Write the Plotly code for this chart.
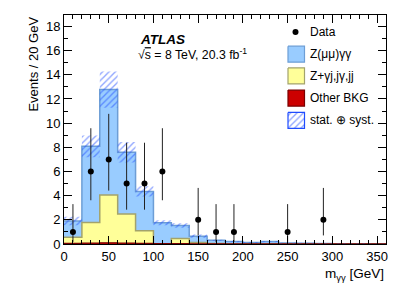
import plotly.graph_objects as go

# ---------------- data ----------------
bin_edges = [0, 20, 40, 60, 80, 100, 120, 140, 160, 180, 200, 220, 240, 260, 280, 300, 320, 340, 360]
other_bkg = [0.05, 0.08, 0.10, 0.08, 0.05, 0.03, 0.03, 0.02, 0.02, 0.01, 0.01, 0.01, 0.01, 0.01, 0.01, 0.01, 0.01, 0.01]
z_jets = [0.50, 1.70, 3.95, 2.40, 1.05, 0.00, 0.42, 0.10, 0.02, 0, 0, 0, 0, 0, 0, 0, 0, 0]
z_mumu_gg = [1.35, 6.30, 8.73, 5.12, 3.25, 1.73, 1.08, 0.53, 0.26, 0.19, 0.11, 0.19, 0.07, 0.06, 0.04, 0.02, 0.02, 0.01]
syst_err = [0.35, 0.90, 1.50, 0.85, 0.42, 0.20, 0.18, 0.14, 0.06, 0.05, 0.04, 0.05, 0.03, 0.03, 0.02, 0.02, 0.02, 0.01]

data_x = [10, 30, 50, 70, 90, 110, 150, 170, 190, 250, 290]
data_y = [1, 6, 7, 5, 5, 6, 2, 1, 1, 1, 2]
data_err_up = [2.30, 3.58, 3.77, 3.38, 3.38, 3.58, 2.64, 2.30, 2.30, 2.30, 2.64]
data_err_dn = [0.83, 2.38, 2.58, 2.16, 2.16, 2.38, 1.29, 0.83, 0.83, 0.83, 1.29]

legend_labels = ["Data", "Z(μμ)γγ", "Z+γj,jγ,jj", "Other BKG", "stat. ⊕ syst."]

FONT = "Liberation Sans, Arial, Helvetica, sans-serif"
BLUE_FILL = "#99ccff"
BLUE_LINE = "#6d9ed6"
YEL_FILL = "#ffff99"
YEL_LINE = "#a3a36c"
RED_FILL = "#cc0000"
RED_LINE = "#7a0000"
HATCH = "#1f4cff"

# cumulative stacks
cum_red = other_bkg[:]
cum_yel = [a + b for a, b in zip(cum_red, z_jets)]
cum_tot = [a + b for a, b in zip(cum_yel, z_mumu_gg)]
band_lo = [t - s for t, s in zip(cum_tot, syst_err)]
band_hi = [t + s for t, s in zip(cum_tot, syst_err)]


def steps(v):
    return list(v) + [v[-1]]


HATCH_PATTERN = dict(shape="/", fgcolor=HATCH, bgcolor="rgba(0,0,0,0)",
                     size=4.5, solidity=0.3, fillmode="overlay")

fig = go.Figure()

fig.add_trace(go.Scatter(x=bin_edges, y=steps(cum_tot), mode="lines", line_shape="hv",
                         line=dict(color=BLUE_LINE, width=1.5), fill="tozeroy",
                         fillcolor=BLUE_FILL, showlegend=False, hoverinfo="skip"))
fig.add_trace(go.Scatter(x=bin_edges, y=steps(cum_yel), mode="lines", line_shape="hv",
                         line=dict(color=YEL_LINE, width=1.5), fill="tozeroy",
                         fillcolor=YEL_FILL, showlegend=False, hoverinfo="skip"))
fig.add_trace(go.Scatter(x=bin_edges, y=steps(cum_red), mode="lines", line_shape="hv",
                         line=dict(color=RED_LINE, width=1.2), fill="tozeroy",
                         fillcolor=RED_FILL, showlegend=False, hoverinfo="skip"))
# syst band
fig.add_trace(go.Scatter(x=bin_edges, y=steps(band_lo), mode="lines", line_shape="hv",
                         line=dict(width=0, color="rgba(0,0,0,0)"), showlegend=False, hoverinfo="skip"))
fig.add_trace(go.Scatter(x=bin_edges, y=steps(band_hi), mode="lines", line_shape="hv",
                         line=dict(width=0, color="rgba(0,0,0,0)"), fill="tonexty",
                         fillcolor="rgba(0,0,0,0)", fillpattern=HATCH_PATTERN,
                         showlegend=False, hoverinfo="skip"))
# data
fig.add_trace(go.Scatter(x=data_x, y=data_y, mode="markers",
                         marker=dict(color="black", size=6),
                         error_y=dict(type="data", symmetric=False, array=data_err_up,
                                      arrayminus=data_err_dn, width=0, thickness=1, color="#222"),
                         showlegend=False, hoverinfo="skip"))

# ---------------- legend (overlay axes in plot-area fraction units) ----------------
L, R, T, B = 64, 386, 15, 244


def fx(px):
    return (px - L) / (R - L)


def fy(py):
    return (B - py) / (B - T)


box_l, box_r = 288, 304.5
rows = [54.2, 75.9, 98.1, 120.4]
fills = [BLUE_FILL, YEL_FILL, RED_FILL, "rgba(0,0,0,0)"]
lines = [BLUE_LINE, YEL_LINE, RED_LINE, HATCH]
for i, (yc, fc, lc) in enumerate(zip(rows, fills, lines)):
    t, b = yc - 8, yc + 8
    kw = {}
    if i == 3:
        kw["fillpattern"] = HATCH_PATTERN
    fig.add_trace(go.Scatter(x=[fx(box_l), fx(box_r), fx(box_r), fx(box_l), fx(box_l)],
                             y=[fy(t), fy(t), fy(b), fy(b), fy(t)], mode="lines",
                             fill="toself", fillcolor=fc, line=dict(color=lc, width=1.2),
                             xaxis="x2", yaxis="y2", showlegend=False, hoverinfo="skip", **kw))
fig.add_trace(go.Scatter(x=[fx(295.5)], y=[fy(32)], mode="markers",
                         marker=dict(color="black", size=6), xaxis="x2", yaxis="y2",
                         showlegend=False, hoverinfo="skip"))

annotations = []
for lab, yc in zip(legend_labels, [32] + rows):
    annotations.append(dict(x=fx(308), y=fy(yc), xref="x2", yref="y2", text=lab,
                            showarrow=False, xanchor="left", yanchor="middle",
                            font=dict(family=FONT, size=12, color="black")))

annotations += [
    dict(x=fx(137.5), y=fy(39.5), xref="x2", yref="y2", text="<b><i>ATLAS</i></b>",
         showarrow=False, xanchor="left", yanchor="middle",
         font=dict(family=FONT, size=13.5, color="black")),
    dict(x=fx(135.5), y=fy(53.5), xref="x2", yref="y2",
         text="√<span style='text-decoration:overline'>s</span> = 8 TeV, 20.3 fb<sup>-1</sup>",
         showarrow=False, xanchor="left", yanchor="middle",
         font=dict(family=FONT, size=12.3, color="black")),
    dict(x=1.0, y=-0.135, xref="paper", yref="paper", text="m<sub>γγ</sub> [GeV]",
         showarrow=False, xanchor="right", yanchor="middle",
         font=dict(family=FONT, size=13.5, color="black")),
    dict(x=-0.096, y=1.0, xref="paper", yref="paper", text="Events / 20 GeV",
         showarrow=False, xanchor="center", yanchor="top", textangle=-90,
         font=dict(family=FONT, size=13, color="black")),
]

axis_common = dict(showline=True, linecolor="black", linewidth=1, mirror="allticks",
                   ticks="inside", tickcolor="black", showgrid=False, zeroline=False,
                   tickfont=dict(family=FONT, size=13, color="black"))

fig.update_layout(
    width=407, height=292,
    margin=dict(l=L, r=407 - R, t=T, b=292 - B),
    paper_bgcolor="white", plot_bgcolor="white",
    showlegend=False,
    xaxis=dict(range=[0, 360], tickmode="linear", tick0=0, dtick=50, ticklen=8,
               minor=dict(ticks="inside", dtick=10, ticklen=4, tickcolor="black", showgrid=False),
               **axis_common),
    yaxis=dict(range=[0, 18.95], tickmode="linear", tick0=0, dtick=2, ticklen=8,
               minor=dict(ticks="inside", dtick=1, ticklen=4, tickcolor="black", showgrid=False),
               **axis_common),
    xaxis2=dict(overlaying="x", range=[0, 1], visible=False, anchor="y2"),
    yaxis2=dict(overlaying="y", range=[0, 1], visible=False, anchor="x2"),
    annotations=annotations,
)

fig.write_html("out.html", config={"displayModeBar": False},
               post_script="document.body.style.margin='0px';")
